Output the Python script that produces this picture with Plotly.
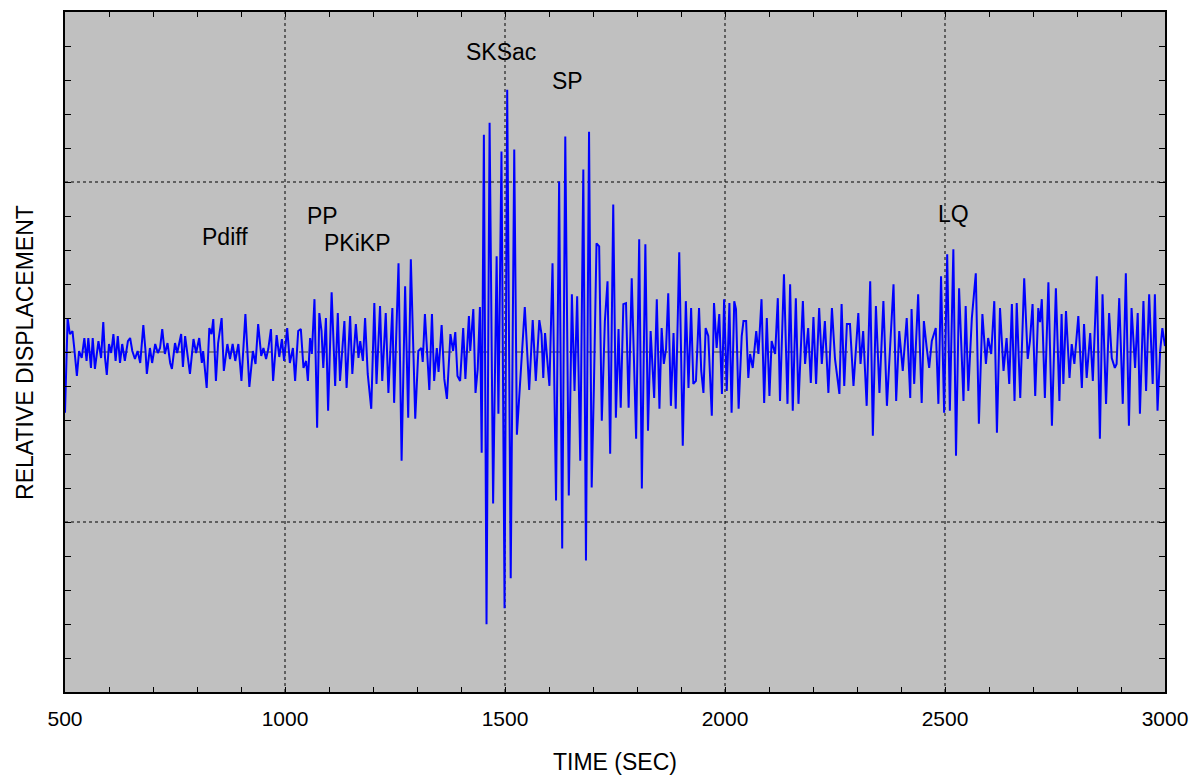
import plotly.graph_objects as go

# ---- seismogram (time in s, relative displacement, arbitrary units) ----
time_p = [500, 506, 511, 517, 521, 527, 532, 538, 544, 549, 553, 559, 563, 568, 576, 582, 587, 591, 595, 600,
          605, 610, 615, 620, 625, 630, 636, 643, 648, 653, 659, 665, 671, 678, 683, 686, 693, 698, 705, 711,
          716, 721, 727, 733, 739, 743, 750, 755, 764, 768, 773, 778, 784, 792, 798, 805, 811, 814, 822, 828,
          833, 837, 843, 848, 856, 861, 869, 875, 881, 887, 894, 901, 910, 919, 927, 933, 939, 946, 951, 957,
          962, 968, 973, 981, 987, 993, 998, 1005, 1011, 1018, 1023, 1030, 1036, 1042, 1048, 1052, 1057, 1061,
          1067, 1073, 1078, 1083, 1087, 1093, 1098, 1106, 1114, 1120, 1125, 1135, 1140, 1148, 1153, 1161, 1167,
          1171, 1177, 1182, 1188, 1196, 1203, 1208, 1216, 1221, 1229, 1235, 1244, 1248, 1258, 1265, 1273, 1280,
          1286, 1296, 1303, 1310]
disp_p = [-61, 34, 18, 21, 4, -24, 1, -6, 14, -9, 14, -16, 14, -17, 11, -6, 30, -6, -23, 8,
          -1, 18, -9, 16, -11, 8, -9, 11, 14, 1, -7, 1, -11, 27, 1, -22, 4, -11, 8, -1,
          4, 23, -2, 9, -11, -17, 9, -1, 18, -15, 16, -4, -22, 13, -1, 14, -11, 1, -36, 24,
          18, 33, -29, 9, 34, -19, 8, -7, 8, -9, 8, -29, 38, -35, 1, -12, 28, -4, 4, -7,
          3, 23, -29, 17, -5, 13, -9, 24, -11, 4, -29, 21, 23, -16, -9, -29, 14, -2,
          53, -76, 39, 21, -16, 34, -59, 60, -34, 39, -29, 31, -36, 36, -22, 28, -6,
          11, -9, 34, -22, -57, 49, -32, 46, -29, 39, -41, 44, -51, 89, -109, 66, -66,
          93, -67, 1, 4]

time_s = [1313, 1318, 1328, 1334, 1339, 1345, 1349, 1356, 1362, 1368, 1376, 1382, 1387, 1392, 1398, 1405,
          1410, 1418, 1421, 1428, 1433, 1438, 1443, 1447, 1452, 1458, 1465, 1473, 1481, 1485, 1492, 1499,
          1505, 1513, 1521, 1527, 1536, 1545, 1555, 1563, 1570, 1578, 1583, 1587, 1591, 1596, 1601, 1608,
          1616, 1623, 1630, 1637, 1645, 1652, 1658, 1664, 1671, 1678, 1684, 1691, 1697, 1702, 1708, 1714,
          1720, 1727, 1733, 1739, 1746, 1752, 1758, 1763, 1769, 1775, 1781, 1788, 1798, 1805, 1811, 1819,
          1825, 1831, 1839, 1845, 1851, 1856, 1861, 1866, 1871, 1877, 1883, 1888, 1896, 1904, 1911, 1917,
          1923, 1928, 1934, 1941, 1946, 1951, 1956, 1962, 1970, 1975, 1981, 1987, 1993, 1998]
disp_s = [-10, 38, -38, 38, -29, 4, -20, 27, -27, -47, 18, 1, 20, -24, -29, 24,
          -27, 36, 1, 43, -41, -17, 45, -101, 218, -273, 230, -152, 96, -62, 201, -257,
          263, -227, 203, -83, -20, 45, -38, 32, -29, 32, 18, -26, 19, -9, -34, 89,
          -149, 171, -197, 216, -144, 58, -39, 56, -109, 183, -209, 221, -136, -36, 109, 106,
          -69, 31, 71, -102, 148, -66, 23, -56, 48, 49, -56, 74, -87, 113, -137, 108,
          -79, 21, -46, 53, -57, 24, -12, 3, 59, -54, 19, -57, 100, -94, 51, -36,
          44, -32, -29, 44, -19, -41, 24, 16, -64, 49, 4, 38, -42, 53]

time_lq = [2004, 2010, 2015, 2021, 2025, 2031, 2038, 2042, 2048, 2053, 2057, 2063, 2071, 2076, 2083, 2089,
           2095, 2101, 2106, 2114, 2120, 2125, 2134, 2142, 2148, 2154, 2161, 2167, 2177, 2182, 2189, 2195,
           2201, 2207, 2214, 2220, 2227, 2235, 2243, 2250, 2260, 2265, 2271, 2277, 2284, 2292, 2303, 2308,
           2314, 2322, 2330, 2336, 2343, 2351, 2360, 2368, 2375, 2383, 2389, 2396, 2404, 2413, 2421, 2424,
           2430, 2439, 2447, 2452, 2458, 2464, 2470, 2479, 2485, 2491, 2498, 2505, 2511, 2519, 2525, 2532,
           2542, 2547, 2553, 2561, 2570, 2577, 2585, 2593, 2598, 2605, 2612, 2618, 2625, 2633, 2640, 2646,
           2652, 2658, 2663, 2671, 2680, 2688, 2693, 2699, 2705, 2712, 2716, 2720, 2727, 2735, 2743, 2752,
           2760, 2765, 2769, 2775, 2783, 2788, 2794, 2803, 2811, 2816, 2822, 2830, 2836, 2845, 2852, 2858,
           2866, 2873, 2879, 2886, 2890, 2896, 2904, 2911, 2918, 2924, 2932, 2938, 2943, 2951, 2957, 2964,
           2972, 2977, 2983, 2989, 2994, 2998, 3000]
disp_lq = [-39, 49, -61, 51, 43, -57, 16, 31, 31, -26, -2, -16, 21, -2, 53, -51,
           34, -44, 11, -2, 54, -49, 78, -52, 68, -59, 54, -52, 51, -12, 24, -31,
           35, -32, 44, -12, 31, -41, 44, -7, -42, 48, -34, 28, 28, -34, 39, -12,
           21, -54, 71, -84, 46, -41, 51, -54, 6, 68, -49, 21, -19, 34, -46, 43,
           -32, 58, -51, 31, 6, -16, 11, 24, -52, 76, -61, 98, -59, 103, -104, 64,
           -49, 46, -39, 34, 79, -72, 38, -12, 14, -2, 51, -81, 44, -19, 14, -32,
           48, -49, 49, -46, 74, -7, 11, 48, -44, 44, 30, 53, -46, 70, -74, 64,
           -49, 38, -32, 41, -26, 8, -12, 36, -36, 28, -26, 19, -29, 76, -87, 58,
           -52, 39, -6, -16, -12, 54, -52, 79, -74, 44, -16, 39, -62, 51, -39, 58,
           -32, 58, -59, 1, 24, 8, 6]

# ---- phase labels ----
phase_names = ["Pdiff", "PP", "PKiKP", "SKSac", "SP", "LQ"]
phase_times = [864, 1086, 1164, 1491, 1641, 2520]
phase_amps = [115, 136, 109, 301, 272, 138]

# ---- axes ----
x_tick_vals = [500, 1000, 1500, 2000, 2500, 3000]
x_tick_text = ["500", "1000", "1500", "2000", "2500", "3000"]
x_grid_vals = [1000, 1500, 2000, 2500]
y_grid_vals = [-170.5, 170.5]
y_limit = 341

FONT = "Arial, 'Liberation Sans', sans-serif"
TEXT_SIZE = 23
TICK_SIZE = 21

t_all = time_p + time_s + time_lq
d_all = disp_p + disp_s + disp_lq

fig = go.Figure()
fig.add_trace(go.Scatter(x=t_all, y=d_all, mode="lines",
                         line=dict(color="#0000FF", width=2), hoverinfo="skip",
                         showlegend=False))

shapes = []
for xv in x_grid_vals:
    shapes.append(dict(type="line", xref="x", yref="paper", x0=xv, x1=xv, y0=0, y1=1,
                       line=dict(color="black", width=1, dash="dot"), layer="below"))
for yv in y_grid_vals:
    shapes.append(dict(type="line", xref="paper", yref="y", x0=0, x1=1, y0=yv, y1=yv,
                       line=dict(color="black", width=1, dash="dot"), layer="below"))
shapes.append(dict(type="line", xref="paper", yref="y", x0=0, x1=1, y0=0, y1=0,
                   line=dict(color="#666666", width=1.5, dash="dash"), layer="below"))

annotations = []
for name, tx, ay in zip(phase_names, phase_times, phase_amps):
    annotations.append(dict(x=tx, y=ay, xref="x", yref="y", text=name, showarrow=False,
                            font=dict(family=FONT, size=TEXT_SIZE, color="black"),
                            xanchor="center", yanchor="middle"))
annotations.append(dict(x=0.5, y=-0.1026, xref="paper", yref="paper", text="TIME (SEC)",
                        showarrow=False, font=dict(family=FONT, size=TEXT_SIZE, color="black"),
                        xanchor="center", yanchor="middle"))
annotations.append(dict(x=-0.0364, y=0.5, xref="paper", yref="paper", text="RELATIVE DISPLACEMENT",
                        showarrow=False, textangle=-90,
                        font=dict(family=FONT, size=TEXT_SIZE, color="black"),
                        xanchor="center", yanchor="middle"))

# the page adds an 8 px body margin, so the figure is sized/margined to compensate
fig.update_layout(
    width=1195, height=768,
    margin=dict(l=57, r=38, t=2, b=84),
    paper_bgcolor="white", plot_bgcolor="#C0C0C0",
    shapes=shapes, annotations=annotations,
    font=dict(family=FONT, size=TICK_SIZE, color="black"),
    xaxis=dict(range=[500, 3000], tickvals=x_tick_vals, ticktext=x_tick_text,
               ticks="inside", ticklen=5, tickwidth=1, tickcolor="black",
               ticklabelstandoff=7,
               minor=dict(dtick=100, tick0=500, ticks="inside", ticklen=5, tickcolor="black"),
               showline=True, linewidth=2, linecolor="black", mirror="allticks",
               showgrid=False, zeroline=False,
               tickfont=dict(family=FONT, size=TICK_SIZE, color="black")),
    yaxis=dict(range=[-y_limit, y_limit], tick0=0, dtick=34.1,
               ticks="inside", ticklen=6, tickwidth=1, tickcolor="black",
               showticklabels=False,
               showline=True, linewidth=2, linecolor="black", mirror="allticks",
               showgrid=False, zeroline=False),
)

fig.write_html("out.html")
